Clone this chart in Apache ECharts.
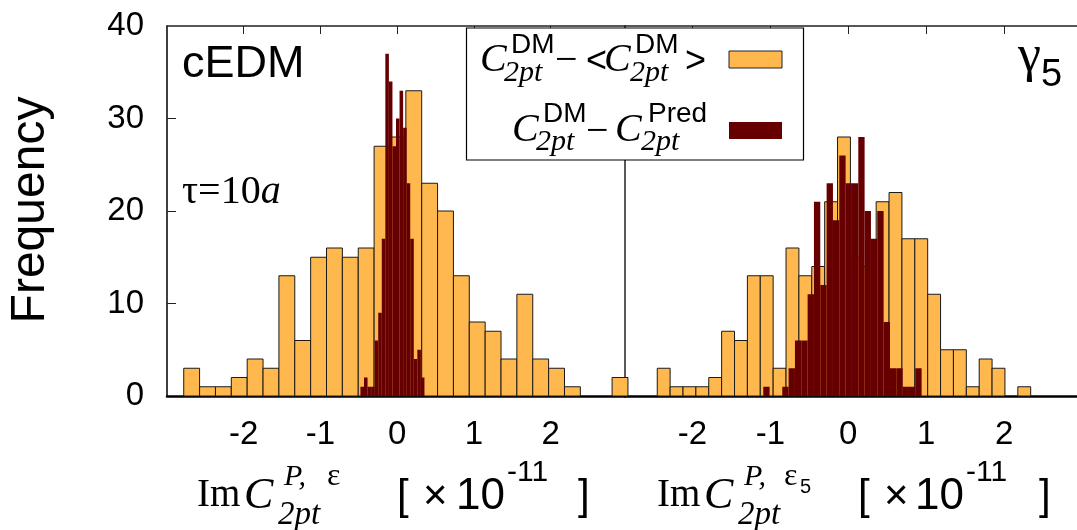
<!DOCTYPE html>
<html>
<head>
<meta charset="utf-8">
<script src="https://cdn.jsdelivr.net/npm/echarts@6/dist/echarts.min.js"></script>
<style>
html, body { margin: 0; padding: 0; background: #fff; }
#chart { width: 1077px; height: 530px; }
</style>
</head>
<body>
<div id="chart"></div>
<script>
// tick labels
var xTicks = [-2, -1, 0, 1, 2];
var yTicks = [10, 20, 30];

// left panel (cEDM, epsilon): C_DM - <C_DM>
var leftAvgStart = -2.782, leftAvgWidth = 0.2068;
var leftAvgCounts = [3, 1, 1, 2, 4, 3, 13, 6, 15, 16, 15, 16, 27, 28, 33, 23, 20, 13, 8, 7, 4, 11, 4, 3, 1, 0, 0, 2];
// left panel: C_DM - C_Pred
var leftPredStart = -0.4785, leftPredWidth = 0.04636;
var leftPredCounts = [1, 2, 1, 1, 6, 9, 17, 37, 34, 27, 30, 33, 29, 23, 17, 4, 5, 2];

// right panel (gamma5, epsilon5): C_DM - <C_DM>
var rightAvgStart = -2.452, rightAvgWidth = 0.1653;
var rightAvgCounts = [3, 1, 1, 1, 2, 7, 6, 13, 13, 3, 16, 13, 14, 21, 28, 15, 14, 21, 22, 17, 17, 11, 5, 5, 1, 4, 3, 0, 1];
// right panel: C_DM - C_Pred
var rightPredStart = -1.091, rightPredWidth = 0.0813;
var rightPredCounts = [1, 0, 0, 1, 3, 6, 6, 11, 21, 12, 23, 19, 26, 23, 23, 28, 20, 17, 20, 8, 3, 3, 1, 1, 3];

var SANS = '"Liberation Sans", Arial, sans-serif';
var SERIF = '"Liberation Serif", "Times New Roman", serif';
var ORANGE = '#FFB84D';
var DARKRED = '#660000';

function bins(start, width, counts) {
    var out = [];
    counts.forEach(function (c, i) {
        if (c > 0) out.push([start + i * width, start + (i + 1) * width, c]);
    });
    return out;
}

function binRenderer(fill, stroke, lw) {
    return function (params, api) {
        var lo = api.coord([api.value(0), 0]);
        var hi = api.coord([api.value(1), api.value(2)]);
        return {
            type: 'rect',
            shape: { x: lo[0], y: hi[1], width: hi[0] - lo[0], height: lo[1] - hi[1] },
            style: { fill: fill, stroke: stroke, lineWidth: lw }
        };
    };
}

function histSeries(name, data, xi, fill, stroke, lw, z) {
    return {
        name: name,
        type: 'custom',
        xAxisIndex: xi,
        yAxisIndex: xi,
        data: data,
        z: z,
        silent: true,
        renderItem: binRenderer(fill, stroke, lw)
    };
}

function bottomAxis(grid, min, max) {
    return {
        type: 'value', gridIndex: grid, position: 'bottom', min: min, max: max,
        axisLine: { show: true, onZero: false, lineStyle: { color: '#000', width: 2.5 } },
        axisTick: { show: true, inside: true, length: 8, customValues: xTicks, lineStyle: { color: '#000' } },
        axisLabel: { customValues: xTicks, fontSize: 33, margin: 22, color: '#000', fontFamily: SANS },
        splitLine: { show: false }
    };
}

function topAxis(grid, min, max) {
    return {
        type: 'value', gridIndex: grid, position: 'top', min: min, max: max,
        axisLine: { show: true, onZero: false, lineStyle: { color: '#222', width: 1.5 } },
        axisTick: { show: true, inside: true, length: 8, customValues: xTicks, lineStyle: { color: '#222' } },
        axisLabel: { show: false },
        splitLine: { show: false }
    };
}

function txt(x, y, s, font, align) {
    return {
        type: 'text', x: x, y: y, z: 100, silent: true,
        style: { text: s, font: font, fill: '#000', align: align || 'left', verticalAlign: 'middle' }
    };
}

var chart = echarts.init(document.getElementById('chart'));

var graphics = [
    // y title
    {
        type: 'text', x: 31, y: 210, rotation: Math.PI / 2, z: 100, silent: true,
        style: { text: 'Frequency', font: '48px ' + SANS, fill: '#000', align: 'center', verticalAlign: 'middle' }
    },
    // legend box
    { type: 'rect', z: 50, silent: true, shape: { x: 466.5, y: 28, width: 337, height: 132 },
      style: { fill: '#fff', stroke: '#000', lineWidth: 1.2 } },
    { type: 'rect', z: 60, silent: true, shape: { x: 729, y: 51, width: 53, height: 17 },
      style: { fill: ORANGE, stroke: '#222', lineWidth: 1 } },
    { type: 'rect', z: 60, silent: true, shape: { x: 729, y: 122, width: 53, height: 17 },
      style: { fill: DARKRED } },
    // legend row 1: C_2pt^DM - <C_2pt^DM>
    txt(480, 60, 'C', 'italic 40px ' + SERIF),
    txt(511, 45, 'DM', '28px ' + SANS),
    txt(504, 73, '2pt', 'italic 30px ' + SERIF),
    txt(555, 61, '\u2212', '40px ' + SERIF),
    txt(586, 62, '<', '36px ' + SANS),
    txt(604, 60, 'C', 'italic 40px ' + SERIF),
    txt(635, 45, 'DM', '28px ' + SANS),
    txt(630, 73, '2pt', 'italic 30px ' + SERIF),
    txt(685, 62, '>', '36px ' + SANS),
    // legend row 2: C_2pt^DM - C_2pt^Pred
    txt(512, 130, 'C', 'italic 40px ' + SERIF),
    txt(543, 114, 'DM', '28px ' + SANS),
    txt(536, 142, '2pt', 'italic 30px ' + SERIF),
    txt(586, 132, '\u2212', '40px ' + SERIF),
    txt(615, 130, 'C', 'italic 40px ' + SERIF),
    txt(648, 114, 'Pred', '28px ' + SANS),
    txt(641, 142, '2pt', 'italic 30px ' + SERIF),
    // panel labels
    txt(182, 65, 'cEDM', '45px ' + SANS),
    {
        type: 'text', x: 182, y: 192, z: 100, silent: true,
        style: {
            text: '{r|\u03c4=10}{i|a}', fill: '#000', verticalAlign: 'middle',
            rich: {
                r: { fontFamily: SERIF, fontSize: 40 },
                i: { fontFamily: SERIF, fontSize: 40, fontStyle: 'italic' }
            }
        }
    },
    txt(1018, 57, '\u03b3', '52px ' + SERIF),
    txt(1041, 76, '5', '38px ' + SANS),
    // x title, left
    txt(197, 496, 'Im', '39px ' + SERIF),
    txt(244, 496, 'C', 'italic 44px ' + SERIF),
    txt(284, 477, 'P,', 'italic 30px ' + SERIF),
    txt(327, 477, '\u03b5', '32px ' + SERIF),
    txt(278, 515, '2pt', 'italic 33px ' + SERIF),
    txt(397, 497, '[', '42px ' + SANS),
    txt(423, 497, '\u00d7', '42px ' + SANS),
    txt(456, 497, '10', '44px ' + SANS),
    txt(507, 473, '-11', '30px ' + SANS),
    txt(578, 497, ']', '42px ' + SANS),
    // x title, right
    txt(657, 496, 'Im', '39px ' + SERIF),
    txt(704, 496, 'C', 'italic 44px ' + SERIF),
    txt(744, 477, 'P,', 'italic 30px ' + SERIF),
    txt(784, 477, '\u03b5', '32px ' + SERIF),
    txt(800, 487, '5', '20px ' + SANS),
    txt(738, 515, '2pt', 'italic 33px ' + SERIF),
    txt(858, 497, '[', '42px ' + SANS),
    txt(884, 497, '\u00d7', '42px ' + SANS),
    txt(915, 497, '10', '44px ' + SANS),
    txt(966, 473, '-11', '30px ' + SANS),
    txt(1039, 497, ']', '42px ' + SANS)
];

var option = {
    animation: false,
    backgroundColor: '#fff',
    grid: [
        { left: 167, top: 26, width: 458, height: 370, outerBoundsMode: 'none', containLabel: false },
        { left: 625, top: 26, width: 452, height: 370, outerBoundsMode: 'none', containLabel: false }
    ],
    xAxis: [
        bottomAxis(0, -3, 2.97),
        bottomAxis(1, -2.866, 2.936),
        topAxis(0, -3, 2.97),
        topAxis(1, -2.866, 2.936)
    ],
    yAxis: [
        {
            type: 'value', gridIndex: 0, min: 0, max: 40, interval: 10,
            axisLine: { show: true, onZero: false, lineStyle: { color: '#000', width: 1.5 } },
            axisTick: { show: true, inside: true, length: 9, customValues: yTicks, lineStyle: { color: '#222' } },
            axisLabel: { fontSize: 33, margin: 23, color: '#000', fontFamily: SANS },
            splitLine: { show: false }
        },
        {
            type: 'value', gridIndex: 1, min: 0, max: 40,
            axisLine: { show: true, onZero: false, lineStyle: { color: '#222', width: 1.5 } },
            axisTick: { show: false },
            axisLabel: { show: false },
            splitLine: { show: false }
        }
    ],
    series: [
        histSeries('C2pt DM - <C2pt DM> (cEDM)', bins(leftAvgStart, leftAvgWidth, leftAvgCounts), 0, ORANGE, '#1a1a1a', 1, 2),
        histSeries('C2pt DM - C2pt Pred (cEDM)', bins(leftPredStart, leftPredWidth, leftPredCounts), 0, DARKRED, null, 0, 3),
        histSeries('C2pt DM - <C2pt DM> (gamma5)', bins(rightAvgStart, rightAvgWidth, rightAvgCounts), 1, ORANGE, '#1a1a1a', 1, 2),
        histSeries('C2pt DM - C2pt Pred (gamma5)', bins(rightPredStart, rightPredWidth, rightPredCounts), 1, DARKRED, null, 0, 3)
    ],
    graphic: graphics
};

chart.setOption(option);
</script>
</body>
</html>
